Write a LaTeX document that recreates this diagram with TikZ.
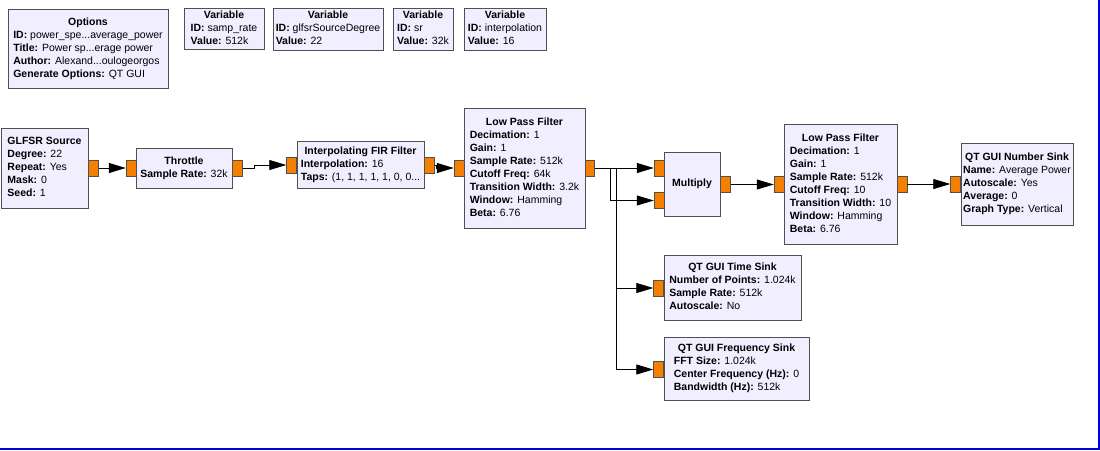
\documentclass[tikz,border=0pt]{standalone}
\usepackage{fontspec}
\setmainfont{Liberation Sans}
\usepackage{tikz}
\usetikzlibrary{arrows.meta}
\usetikzlibrary{positioning}
\definecolor{blockfill}{RGB}{240,238,255}
\definecolor{portorange}{RGB}{245,128,0}
\definecolor{edgegray}{RGB}{80,80,80}
\definecolor{framblue}{RGB}{0,0,225}
\newcommand\kv[2]{\textbf{#1:} #2}
\newcommand\blocktext[2]{\begin{tabular}{@{}l@{}}\multicolumn{1}{@{}c@{}}{\textbf{#1}}\\#2\end{tabular}}
\newcommand\grnode[5][]{%
  \node[grblock,#1,minimum width=#2,minimum height=#3] (#4) {#5};
}

\begin{document}
\begin{tikzpicture}[
x=1pt, y=-1pt,
grblock/.style={
  draw=edgegray,
  fill=blockfill,
  inner sep=0pt,
  font=\fontsize{10.5}{13}\selectfont},
port/.style={
  draw=edgegray,
  fill=portorange,
  minimum width=10,
  minimum height=16,
  inner sep=0pt},
flow/.style={
  line width=0.8pt,
  -{Triangle[length=17pt,width=10pt]}}
]
\useasboundingbox (0,0) rectangle (1100,450);

% options and variables
\grnode[at={(88,48.5)}]{160}{79}{options}{\blocktext{Options}{\kv{ID}{power\_spe...average\_power}\\
  \kv{Title}{Power sp...erage power}\\ \kv{Author}{Alexand...oulogeorgos}\\ \kv{Generate Options}{QT GUI}}}
\grnode[at={(224,28.5)}]{80}{41}{var-samp}{\blocktext{Variable}{\kv{ID}{samp\_rate}\\ \kv{Value}{512k}}}
\grnode[at={(328,29)}]{110}{42}{var-degree}{\blocktext{Variable}{\kv{ID}{glfsrSourceDegree}\\ \kv{Value}{22}}}
\grnode[at={(423,29)}]{60}{42}{var-sr}{\blocktext{Variable}{\kv{ID}{sr}\\ \kv{Value}{32k}}}
\grnode[at={(505,29)}]{82}{42}{var-interp}{\blocktext{Variable}{\kv{ID}{interpolation}\\ \kv{Value}{16}}}

% ports
\node[port] (glfsr-out) at (93.5,168) {};
\node[port] (thr-in) at (131,168) {};
\node[port] (thr-out) at (237.5,168) {};
\node[port] (int-in) at (291.5,165) {};
\node[port] (int-out) at (429.5,165) {};
\node[port] (lpf1-in) at (459,168) {};
\node[port] (lpf1-out) at (589.5,168) {};
\node[port] (mult-in1) at (659,168) {};
\node[port] (mult-in2) at (659,200.5) {};
\node[port] (mult-out) at (725.5,184.5) {};
\node[port] (lpf2-in) at (779,184.5) {};
\node[port] (lpf2-out) at (902,184) {};
\node[port] (ns-in) at (955.5,184) {};
\node[port] (ts-in) at (658.5,288) {};
\node[port] (fs-in) at (658.5,369.5) {};

% blocks
\grnode[at={(44.5,168)}]{87}{80}{glfsr}{\blocktext{GLFSR Source}{\kv{Degree}{22}\\ \kv{Repeat}{Yes}\\
  \kv{Mask}{0}\\ \kv{Seed}{1}}}
\grnode[at={(184,168)}]{96}{40}{throttle}{\blocktext{Throttle}{\kv{Sample Rate}{32k}}}
\grnode[at={(360.5,164.5)}]{127}{47}{interp}{\blocktext{Interpolating FIR Filter}{\kv{Interpolation}{16}\\
  \kv{Taps}{(1, 1, 1, 1, 1, 0, 0...}}}
\grnode[at={(524.5,168)}]{121}{120}{lpf1}{\blocktext{Low Pass Filter}{\kv{Decimation}{1}\\ \kv{Gain}{1}\\
  \kv{Sample Rate}{512k}\\ \kv{Cutoff Freq}{64k}\\ \kv{Transition Width}{3.2k}\\ \kv{Window}{Hamming}\\ \kv{Beta}{6.76}}}
\grnode[at={(692,184)}]{56}{64}{mult}{\textbf{Multiply}}
\grnode[at={(840.5,184)}]{113}{120}{lpf2}{\blocktext{Low Pass Filter}{\kv{Decimation}{1}\\ \kv{Gain}{1}\\
  \kv{Sample Rate}{512k}\\ \kv{Cutoff Freq}{10}\\ \kv{Transition Width}{10}\\ \kv{Window}{Hamming}\\ \kv{Beta}{6.76}}}
\grnode[at={(1017,184)}]{112}{82}{nsink}{\blocktext{QT GUI Number Sink}{\kv{Name}{Average Power}\\
  \kv{Autoscale}{Yes}\\ \kv{Average}{0}\\ \kv{Graph Type}{Vertical}}}
\grnode[at={(732.5,287.5)}]{137}{65}{tsink}{\blocktext{QT GUI Time Sink}{\kv{Number of Points}{1.024k}\\
  \kv{Sample Rate}{512k}\\ \kv{Autoscale}{No}}}
\grnode[at={(736.5,368.5)}]{145}{63}{fsink}{\blocktext{QT GUI Frequency Sink}{\kv{FFT Size}{1.024k}\\
  \kv{Center Frequency (Hz)}{0}\\ \kv{Bandwidth (Hz)}{512k}}}

% connections
\coordinate (split-a) at (610,168);
\coordinate (split-b) at (616,168);
\draw[flow] (glfsr-out) -- (thr-in);
\draw[flow] (thr-out.east) -- ++(12,0) |- (int-in.west);
\draw[flow] (int-out.east) -- ++(2,0) |- (lpf1-in.west);
\draw[flow] (lpf1-out.east) -- (mult-in1.west);
\draw[flow] (split-a) |- (mult-in2.west);
\draw[flow] (split-b) |- (ts-in.west);
\draw[flow] (split-b) |- (fs-in.west);
\draw[flow] (mult-out) -- (lpf2-in);
\draw[flow] (lpf2-out) -- (ns-in);

% frame
\draw[framblue, line width=2pt] (1099,0) -- (1099,449) -- (0,449);
\end{tikzpicture}
\end{document}
